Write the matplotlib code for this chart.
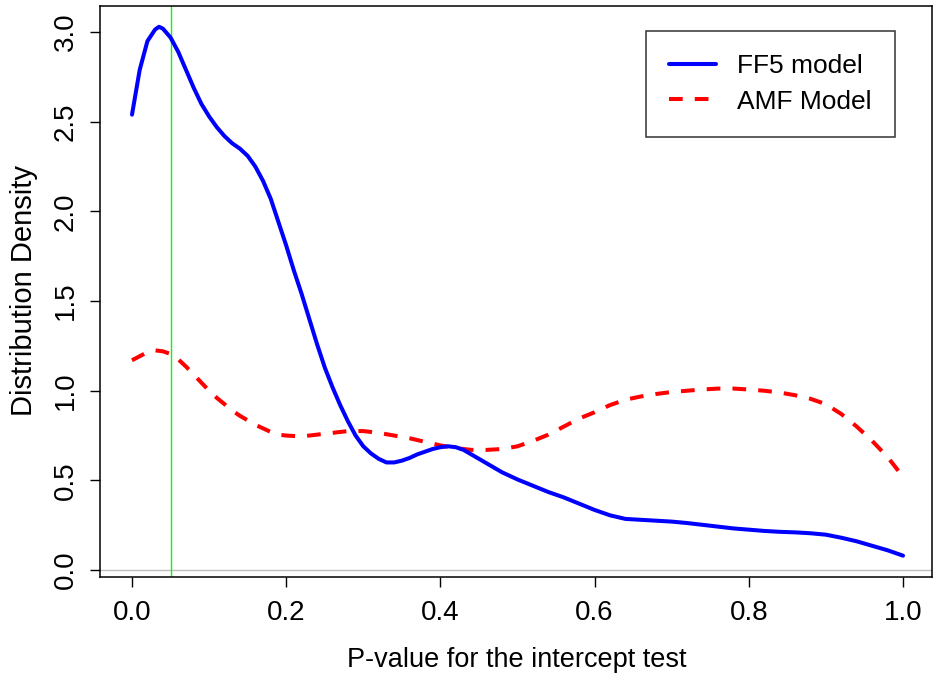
import matplotlib
matplotlib.use("Agg")
import matplotlib.pyplot as plt

# Densidad de p-valores
p_ff5 = [0.00, 0.01, 0.02, 0.03, 0.035, 0.04, 0.05, 0.06, 0.07, 0.08, 0.09,
         0.10, 0.11, 0.12, 0.13, 0.14, 0.15, 0.16, 0.17, 0.18, 0.19,
         0.20, 0.21, 0.22, 0.23, 0.24, 0.25, 0.26, 0.27, 0.28, 0.29,
         0.30, 0.31, 0.32, 0.33, 0.34, 0.35, 0.36, 0.37, 0.38, 0.39,
         0.40, 0.41, 0.42, 0.43, 0.44, 0.45, 0.46, 0.47, 0.48, 0.50,
         0.52, 0.54, 0.56, 0.58, 0.60, 0.62, 0.64, 0.66, 0.68, 0.70,
         0.72, 0.74, 0.76, 0.78, 0.80, 0.82, 0.84, 0.86, 0.88, 0.90,
         0.92, 0.94, 0.96, 0.98, 1.00]
dens_ff5 = [2.54, 2.79, 2.95, 3.015, 3.03, 3.02, 2.97, 2.89, 2.79, 2.69, 2.60,
            2.53, 2.47, 2.42, 2.38, 2.35, 2.31, 2.25, 2.17, 2.07, 1.94,
            1.81, 1.67, 1.54, 1.40, 1.26, 1.13, 1.02, 0.92, 0.83, 0.75,
            0.69, 0.65, 0.62, 0.60, 0.60, 0.61, 0.625, 0.645, 0.66, 0.675,
            0.685, 0.69, 0.685, 0.67, 0.645, 0.62, 0.595, 0.57, 0.545, 0.505,
            0.47, 0.435, 0.405, 0.37, 0.335, 0.305, 0.285, 0.28, 0.275, 0.27,
            0.262, 0.252, 0.242, 0.232, 0.225, 0.218, 0.213, 0.21, 0.205, 0.197,
            0.18, 0.16, 0.135, 0.11, 0.08]

p_amf = [0.00, 0.02, 0.03, 0.04, 0.05, 0.06, 0.07, 0.08, 0.09, 0.10,
         0.11, 0.12, 0.13, 0.14, 0.15, 0.16, 0.17, 0.18, 0.19, 0.20,
         0.22, 0.24, 0.26, 0.28, 0.30, 0.32, 0.34, 0.36, 0.38, 0.40,
         0.42, 0.44, 0.46, 0.48, 0.50, 0.52, 0.54, 0.56, 0.58, 0.60,
         0.62, 0.64, 0.66, 0.68, 0.70, 0.72, 0.74, 0.76, 0.78, 0.80,
         0.82, 0.84, 0.86, 0.88, 0.90, 0.92, 0.94, 0.96, 0.98, 1.00]
dens_amf = [1.17, 1.215, 1.225, 1.22, 1.205, 1.175, 1.135, 1.09, 1.045, 1.00,
            0.96, 0.925, 0.89, 0.86, 0.835, 0.81, 0.79, 0.77, 0.755, 0.75,
            0.745, 0.755, 0.765, 0.775, 0.775, 0.765, 0.75, 0.735, 0.715, 0.695,
            0.68, 0.67, 0.67, 0.675, 0.69, 0.72, 0.755, 0.80, 0.845, 0.88,
            0.92, 0.95, 0.968, 0.982, 0.993, 1.00, 1.007, 1.012, 1.012, 1.007,
            1.00, 0.99, 0.975, 0.955, 0.925, 0.87, 0.80, 0.72, 0.63, 0.52]

etiquetas = ["FF5 model", "AMF Model"]
alpha = 0.05  # línea verde de significancia

plt.rcParams['font.family'] = ['Liberation Sans', 'DejaVu Sans']

fig = plt.figure(figsize=(9.34, 6.79), dpi=100)
ax = fig.add_axes([100 / 934, 1 - 577 / 679, 832 / 934, 571 / 679])

ax.axhline(0, color='#BEBEBE', lw=1.0, zorder=1)
ax.axvline(alpha, color='#00FF00', lw=1.0, zorder=1)
ax.plot(p_ff5, dens_ff5, color='blue', lw=2.9, solid_capstyle='round',
        solid_joinstyle='round', label=etiquetas[0], zorder=3)
ax.plot(p_amf, dens_amf, color='red', lw=2.9, dashes=(3.4, 3.0),
        dash_capstyle='butt', label=etiquetas[1], zorder=2)

ax.set_xlim(-0.0415, 1.0376)
ax.set_ylim(-0.039, 3.146)
ax.set_xticks([0.0, 0.2, 0.4, 0.6, 0.8, 1.0])
ax.set_yticks([0.0, 0.5, 1.0, 1.5, 2.0, 2.5, 3.0])
ax.set_xticklabels(["0.0", "0.2", "0.4", "0.6", "0.8", "1.0"])
ax.set_yticklabels(["0.0", "0.5", "1.0", "1.5", "2.0", "2.5", "3.0"],
                   rotation=90, va='center')
ax.tick_params(axis='both', direction='out', length=7.5, width=1.0,
               labelsize=20)
ax.tick_params(axis='x', pad=9)
ax.tick_params(axis='y', pad=8)
for s in ax.spines.values():
    s.set_linewidth(1.1)

fig.text(517 / 934, 1 - 660 / 679, "P-value for the intercept test",
         ha='center', va='center', fontsize=19.5)
fig.text(24 / 934, 1 - 290 / 679, "Distribution Density", rotation=90,
         ha='center', va='center', fontsize=21)

leg = ax.legend(loc='upper right', bbox_to_anchor=(0.9555, 0.9567),
                borderaxespad=0, fancybox=False, fontsize=19,
                handlelength=1.75, handletextpad=0.8, labelspacing=0.42,
                borderpad=0.9, framealpha=1)
leg.get_frame().set_edgecolor('#333333')
leg.get_frame().set_linewidth(1.1)

fig.savefig("out.png", dpi=100)
